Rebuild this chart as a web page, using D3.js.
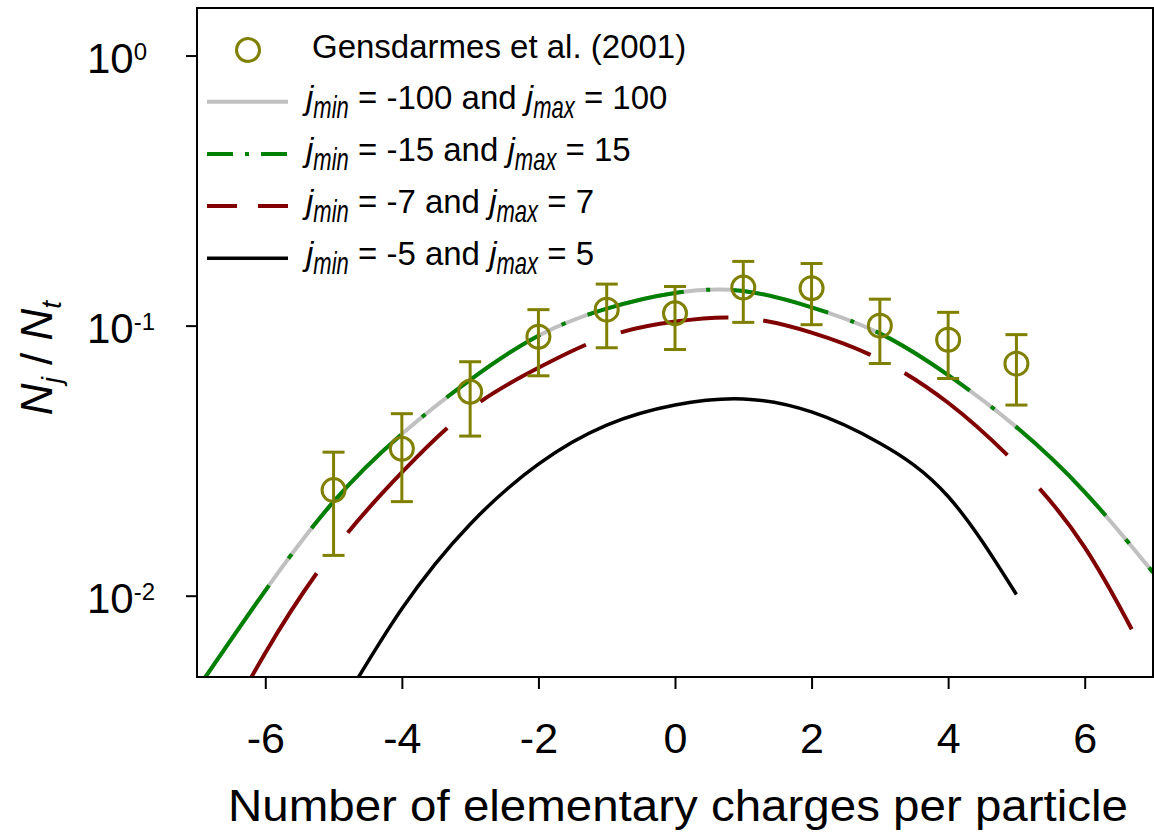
<!DOCTYPE html>
<html>
<head>
<meta charset="utf-8">
<script src="https://cdn.jsdelivr.net/npm/d3@7"></script>
<style>
  body { margin: 0; background: #fff; }
  svg { display: block; }
  text { font-family: "Liberation Sans", Arial, sans-serif; fill: #000; }
</style>
</head>
<body>
<div id="chart"></div>
<script>
// Measured charge distribution (Gensdarmes et al. 2001)
const charges = [-5, -4, -3, -2, -1, 0, 1, 2, 3, 4, 5];
const measured = [0.0246, 0.0350, 0.0569, 0.0910, 0.1146, 0.1111, 0.1384, 0.1376, 0.1000, 0.0887, 0.0723];
const errHigh = [0.0340, 0.0472, 0.0735, 0.1146, 0.1425, 0.1396, 0.1729, 0.1698, 0.1253, 0.1120, 0.0926];
const errLow = [0.0141, 0.0223, 0.0390, 0.0652, 0.0828, 0.0816, 0.1028, 0.1008, 0.0724, 0.0637, 0.0508];

// Model curves
const curveCharges = [-7, -6, -5, -4, -3, -2, -1, 0, 1, 2, 3, 4, 5, 6, 7];
const range100 = [0.0045, 0.01045, 0.0223, 0.0397, 0.0630, 0.0918, 0.1156, 0.1321, 0.1344, 0.1169, 0.0936, 0.0656, 0.0421, 0.0242, 0.0122];
const range15 = [0.0045, 0.01045, 0.0223, 0.0397, 0.0630, 0.0918, 0.1156, 0.1321, 0.1344, 0.1169, 0.0936, 0.0656, 0.0421, 0.0242, 0.0122];
const range7 = [0.0021, 0.00614, 0.0147, 0.0286, 0.0491, 0.0698, 0.0910, 0.1035, 0.1067, 0.0942, 0.0750, 0.0518, 0.0307, 0.0151, 0.0053];
const charges5 = [-5, -4, -3, -2, -1, 0, 1, 2, 3, 4, 5];
const range5 = [0.0035, 0.00895, 0.0184, 0.0307, 0.0428, 0.0508, 0.0535, 0.0479, 0.0367, 0.0233, 0.0101];

const xTicks = [-6, -4, -2, 0, 2, 4, 6];
const yTicks = [1, 0.1, 0.01];
const yTickExp = ["0", "-1", "-2"];

const W = 1154, H = 836;
const plotL = 197, plotR = 1153, plotT = 8, plotB = 677;

const svg = d3.select("#chart").append("svg")
   .attr("width", W)
   .attr("height", H);

const x = d3.scaleLinear().domain([-7, 7]).range([plotL, plotR]);
const y = d3.scaleLog().domain([0.005, 1.5]).range([plotB, plotT]);

svg.append("clipPath").attr("id", "plot-clip")
   .append("rect")
   .attr("x", plotL).attr("y", plotT)
   .attr("width", plotR - plotL).attr("height", plotB - plotT);

// dash pattern measured along the curve with the vertical part squeezed
function patternDash(path, pattern, k, phase) {
   const node = path.node();
   const total = node.getTotalLength();
   const n = pattern.length;
   let i = 0, rem = pattern[0], p = phase;
   while (p >= rem) { p -= rem; i = (i + 1) % n; rem = pattern[i]; }
   rem -= p;
   const segs = [];
   if (i % 2 === 1) segs.push(0);
   let prev = node.getPointAtLength(0);
   let segStart = 0;
   for (let s = 0.5; s <= total; s += 0.5) {
      const pt = node.getPointAtLength(s);
      rem -= Math.hypot(pt.x - prev.x, (pt.y - prev.y) / k);
      prev = pt;
      while (rem <= 0) {
         segs.push(s - segStart);
         segStart = s;
         i = (i + 1) % n;
         rem += pattern[i];
      }
   }
   segs.push(total - segStart + 50);
   if (segs.length % 2 === 1) segs.push(50);
   return segs.join(" ");
}

// text made of pieces, each piece its own element so it can be stretched
function richText(g, x0, y0, pieces) {
   let cx = x0;
   pieces.forEach(p => {
      const t = g.append("text")
         .style("font-size", p.size + "px")
         .style("font-style", p.italic ? "italic" : "normal")
         .text(p.t.replace(/ /g, "\u00a0"));
      const w = t.node().getComputedTextLength();
      t.attr("transform", `translate(${cx},${y0 + (p.dy || 0)}) scale(1,${p.sy || 1})`);
      cx += w;
   });
}

const curves = svg.append("g").attr("clip-path", "url(#plot-clip)");

const line = d3.line()
   .x(d => x(d[0]))
   .y(d => y(d[1]))
   .curve(d3.curveNatural);

curves.append("path")
   .datum(d3.zip(curveCharges, range100))
   .attr("fill", "none")
   .attr("stroke", "#c0c0c0")
   .attr("stroke-width", 4)
   .attr("d", line);

const greenPath = curves.append("path")
   .datum(d3.zip(curveCharges, range15))
   .attr("fill", "none")
   .attr("stroke", "#008000")
   .attr("stroke-width", 4)
   .attr("d", line);
greenPath.attr("stroke-dasharray", patternDash(greenPath, [97, 22, 4, 22], 2.5, 14));

const redPath = curves.append("path")
   .datum(d3.zip(curveCharges, range7))
   .attr("fill", "none")
   .attr("stroke", "#800000")
   .attr("stroke-width", 4)
   .attr("d", line);
redPath.attr("stroke-dasharray", patternDash(redPath, [108, 35], 2.5, 106));

curves.append("path")
   .datum(d3.zip(charges5, range5))
   .attr("fill", "none")
   .attr("stroke", "#000")
   .attr("stroke-width", 3.5)
   .attr("d", line);

// error bars and circles
const olive = "#808000";
const pts = svg.append("g");
charges.forEach((c, i) => {
   const g = pts.append("g").attr("stroke", olive).attr("stroke-width", 3).attr("fill", "none");
   g.append("line").attr("x1", x(c)).attr("x2", x(c)).attr("y1", y(errHigh[i])).attr("y2", y(errLow[i]));
   g.append("line").attr("x1", x(c) - 11).attr("x2", x(c) + 11).attr("y1", y(errHigh[i])).attr("y2", y(errHigh[i]));
   g.append("line").attr("x1", x(c) - 11).attr("x2", x(c) + 11).attr("y1", y(errLow[i])).attr("y2", y(errLow[i]));
   g.append("circle").attr("cx", x(c)).attr("cy", y(measured[i])).attr("r", 11.5);
});

// axes
const xAxis = svg.append("g")
   .attr("transform", `translate(0,${plotB})`)
   .call(d3.axisBottom(x).tickValues(xTicks).tickSize(12).tickSizeOuter(0).tickFormat(d => d));
xAxis.select(".domain").remove();
xAxis.selectAll(".tick line").attr("stroke", "#000").attr("stroke-width", 2);
xAxis.selectAll(".tick text")
   .attr("y", 76).attr("dy", null)
   .attr("fill", "#000")
   .style("font-family", "'Liberation Sans', Arial, sans-serif")
   .style("font-size", "43px");

const yAxis = svg.append("g")
   .attr("transform", `translate(${plotL},0)`)
   .call(d3.axisLeft(y).tickValues(yTicks).tickSize(11).tickSizeOuter(0).tickFormat(""));
yAxis.select(".domain").remove();
yAxis.selectAll(".tick line").attr("stroke", "#000").attr("stroke-width", 2);

yTicks.forEach((t, i) => {
   const tx = svg.append("text")
      .attr("x", 87)
      .attr("y", y(t) + 17)
      .style("font-size", "42px");
   tx.append("tspan").text("10");
   tx.append("tspan").attr("dy", -13).style("font-size", "24px").text(yTickExp[i]);
});

// frame
svg.append("rect")
   .attr("x", plotL).attr("y", plotT)
   .attr("width", plotR - plotL).attr("height", plotB - plotT)
   .attr("fill", "none").attr("stroke", "#000").attr("stroke-width", 2);

// axis titles
svg.append("text")
   .attr("x", 678).attr("y", 821)
   .attr("text-anchor", "middle")
   .attr("textLength", 900)
   .attr("lengthAdjust", "spacingAndGlyphs")
   .style("font-size", "45px")
   .text("Number of elementary charges per particle");

const yt = svg.append("text")
   .attr("transform", "translate(52,358) rotate(-90)")
   .attr("text-anchor", "middle")
   .style("font-size", "44px");
yt.append("tspan").style("font-style", "italic").text("N");
yt.append("tspan").style("font-style", "italic").style("font-size", "28px").attr("dy", 9).text("j");
yt.append("tspan").attr("dy", -9).text(" / ");
yt.append("tspan").style("font-style", "italic").text("N");
yt.append("tspan").style("font-style", "italic").style("font-size", "28px").attr("dy", 9).text("t");

// legend
const legend = svg.append("g");
legend.append("circle")
   .attr("cx", 248).attr("cy", 50).attr("r", 11.5)
   .attr("fill", "none").attr("stroke", olive).attr("stroke-width", 3);
legend.append("text")
   .attr("x", 312).attr("y", 58)
   .style("font-size", "33px")
   .text("Gensdarmes et al. (2001)");

const legendItems = [
   { jmin: "-100", jmax: "100", color: "#c0c0c0", dash: null, width: 4 },
   { jmin: "-15", jmax: "15", color: "#008000", dash: "26 12 4 12", width: 4 },
   { jmin: "-7", jmax: "7", color: "#800000", dash: "30 21", width: 4 },
   { jmin: "-5", jmax: "5", color: "#000", dash: null, width: 3.5 }
];
legendItems.forEach((it, i) => {
   const ly = 101.7 + i * 52.2;
   legend.append("line")
      .attr("x1", 207).attr("x2", 288)
      .attr("y1", ly).attr("y2", ly)
      .attr("stroke", it.color)
      .attr("stroke-width", it.width)
      .attr("stroke-dasharray", it.dash);
   richText(legend, 306, ly + 7, [
      { t: "j", size: 33, italic: true },
      { t: "min", size: 22, italic: true, dy: 9, sy: 1.45 },
      { t: ` = ${it.jmin} and `, size: 33 },
      { t: "j", size: 33, italic: true },
      { t: "max", size: 22, italic: true, dy: 9, sy: 1.45 },
      { t: ` = ${it.jmax}`, size: 33 }
   ]);
});
</script>
</body>
</html>
